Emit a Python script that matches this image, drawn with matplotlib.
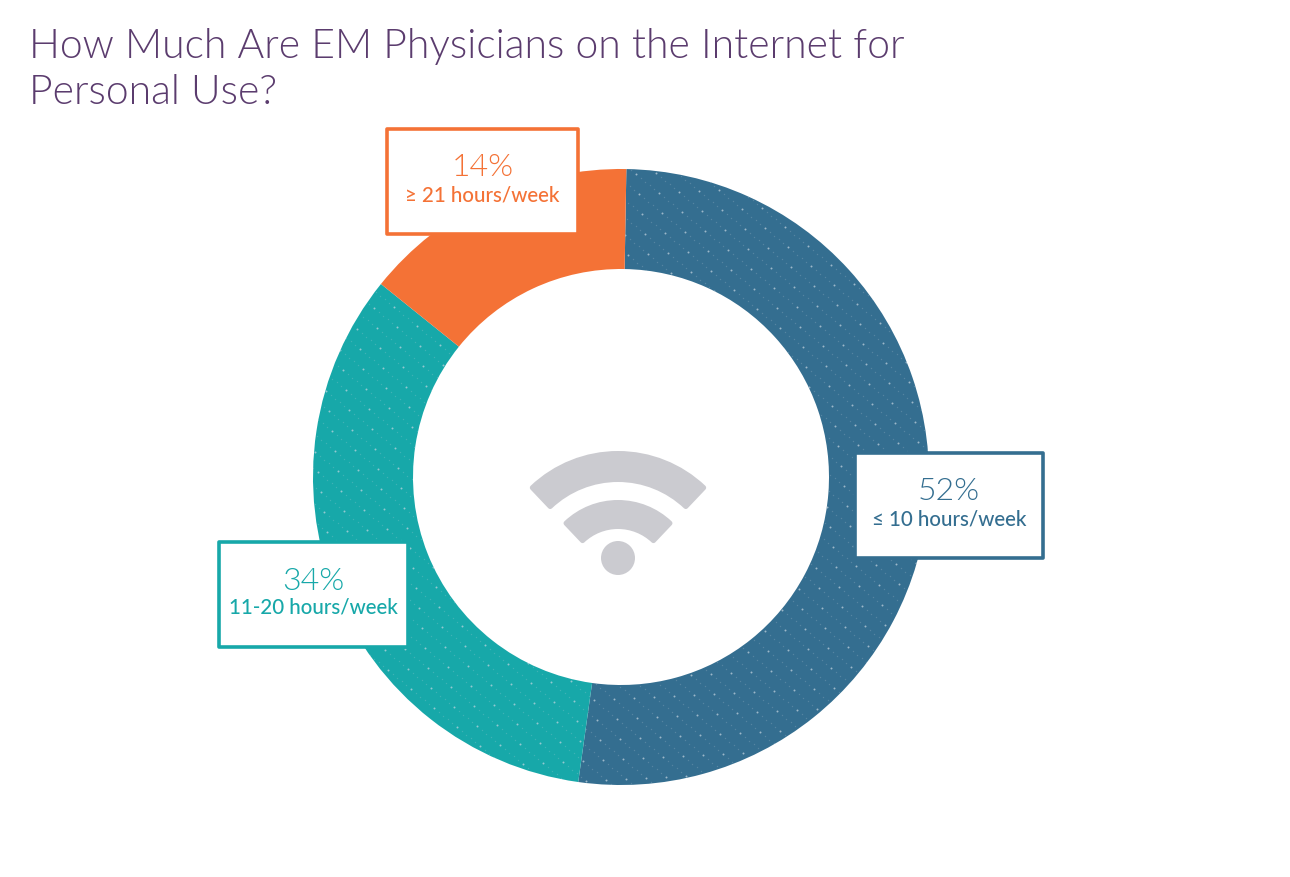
import numpy as np
import matplotlib
matplotlib.use("Agg")
import matplotlib.pyplot as plt
from matplotlib.patches import Rectangle, Wedge, Circle

title = "How Much Are EM Physicians on the Internet for\nPersonal Use?"
segment_shares = [51.94, 33.56, 14.5]
pct_labels = ["52%", "34%", "14%"]
range_labels = ["\u2264 10 hours/week", "11-20 hours/week", "\u2265 21 hours/week"]
colors = ["#346E90", "#17A8A9", "#F47236"]

W, H = 1290, 878
fig = plt.figure(figsize=(W / 100, H / 100), dpi=100, facecolor="white")
ax = fig.add_axes([0, 0, 1, 1])


def Y(y):
    return H - y


CX, CY, R, RI = 621, 478, 308, 208
wedges, _ = ax.pie(segment_shares, colors=colors, startangle=89, counterclock=False,
                   center=(CX, Y(CY)), radius=R,
                   wedgeprops=dict(width=R - RI, linewidth=0))
ax.set_xlim(0, W)
ax.set_ylim(0, H)
ax.set_aspect("equal")
ax.axis("off")

# dotted texture on the two cool-coloured segments
ai, bi = np.meshgrid(np.arange(-40, 41), np.arange(-40, 41))
bx = CX + ai * 20 + bi * 3
by = CY - ai * 1 + bi * 20
fx, fy = [], []
for frac in (0.2, 0.4, 0.6, 0.8):
    fx.append(bx + frac * 23)
    fy.append(by + frac * 19)
fx, fy = np.concatenate([f.ravel() for f in fx]), np.concatenate([f.ravel() for f in fy])
for w in wedges[:2]:
    s1 = ax.scatter(bx.ravel(), Y(by.ravel()), s=2.0, c="#C9D8E2", alpha=0.7,
                    linewidths=0, zorder=3)
    s2 = ax.scatter(fx, Y(fy), s=1.0, c="#C9D8E2", alpha=0.22,
                    linewidths=0, zorder=3)
    s1.set_clip_path(w)
    s2.set_clip_path(w)

# wifi icon
ICON = "#CBCBD0"
IX, IY = 618, 579
for ro, ri in [(127, 96), (78, 49)]:
    ax.add_patch(Wedge((IX, Y(IY)), ro - 2.5, 46.5, 133.5, width=ro - ri - 5,
                       facecolor=ICON, edgecolor=ICON, linewidth=3.6,
                       joinstyle="round", zorder=4))
ax.add_patch(Circle((IX, Y(559)), 17, facecolor=ICON, edgecolor="none", zorder=4))

# callouts: x0, y0, x1, y1 in pixels
boxes = [(855, 454, 1043, 559), (219, 543, 408, 648), (387, 130, 578, 235)]
for (x0, y0, x1, y1), c, p, r in zip(boxes, colors, pct_labels, range_labels):
    ax.add_patch(Rectangle((x0, Y(y1)), x1 - x0, y1 - y0, facecolor="white",
                           edgecolor=c, linewidth=2.6, joinstyle="round", zorder=5))
    xm = (x0 + x1) / 2
    ax.text(xm, Y(y0 + 38), p, color=c, fontsize=23, family="Lato", weight=300,
            ha="center", va="center", zorder=6)
    ax.text(xm, Y(y0 + 65), r, color=c, fontsize=14.8, family="Lato", weight=500,
            ha="center", va="center", zorder=6)

ax.text(29, Y(58), title.split("\n")[0], color="#5B3C6E", fontsize=29.4,
        family="Lato", weight=300, ha="left", va="baseline")
ax.text(29, Y(104), title.split("\n")[1], color="#5B3C6E", fontsize=29.4,
        family="Lato", weight=300, ha="left", va="baseline")

fig.savefig("out.png", dpi=100, facecolor="white")
